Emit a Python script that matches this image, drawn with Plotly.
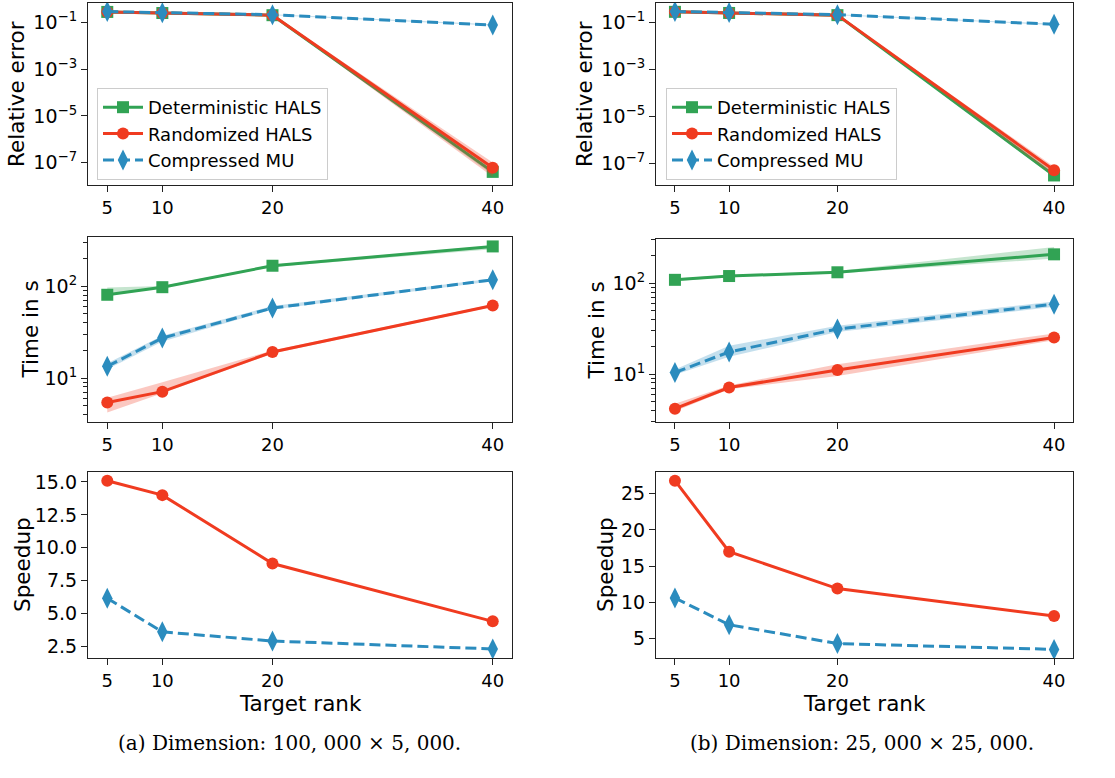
import plotly.graph_objects as go

# ---------------- data ----------------
ranks = [5, 10, 20, 40]
rank_ticks = ["5", "10", "20", "40"]

# (a) 100,000 x 5,000
err_det_a = [0.29, 0.26, 0.21, 4.0e-8]
err_det_a_lo = [0.28, 0.25, 0.20, 3.0e-8]
err_det_a_hi = [0.30, 0.27, 0.22, 5.5e-8]
err_rand_a = [0.29, 0.26, 0.21, 6.0e-8]
err_rand_a_lo = [0.28, 0.25, 0.20, 2.5e-8]
err_rand_a_hi = [0.30, 0.27, 0.22, 1.0e-7]
err_mu_a = [0.30, 0.27, 0.22, 0.08]
err_mu_a_lo = [0.29, 0.26, 0.21, 0.075]
err_mu_a_hi = [0.31, 0.28, 0.23, 0.085]

time_det_a = [81, 98, 168, 273]
time_det_a_lo = [79, 96, 163, 255]
time_det_a_hi = [97, 101, 172, 280]
time_rand_a = [5.4, 7.1, 19.2, 62]
time_rand_a_lo = [4.2, 6.8, 18.5, 60]
time_rand_a_hi = [6.1, 9.0, 20.0, 64]
time_mu_a = [13.4, 27.3, 58, 118]
time_mu_a_lo = [12.5, 25, 56, 114]
time_mu_a_hi = [14.5, 29, 61, 122]

speed_rand_a = [15.1, 14.0, 8.8, 4.4]
speed_mu_a = [6.15, 3.6, 2.9, 2.3]

# (b) 25,000 x 25,000
err_det_b = [0.29, 0.26, 0.21, 3.0e-8]
err_det_b_lo = [0.28, 0.25, 0.20, 2.5e-8]
err_det_b_hi = [0.30, 0.27, 0.22, 4.0e-8]
err_rand_b = [0.29, 0.26, 0.21, 5.0e-8]
err_rand_b_lo = [0.28, 0.25, 0.20, 3.0e-8]
err_rand_b_hi = [0.30, 0.27, 0.22, 7.0e-8]
err_mu_b = [0.30, 0.27, 0.22, 0.085]
err_mu_b_lo = [0.29, 0.26, 0.21, 0.08]
err_mu_b_hi = [0.31, 0.28, 0.23, 0.09]

time_det_b = [109, 120, 132, 208]
time_det_b_lo = [105, 117, 128, 187]
time_det_b_hi = [113, 123, 136, 250]
time_rand_b = [4.16, 7.1, 11.1, 25.2]
time_rand_b_lo = [3.9, 6.8, 9.5, 23.5]
time_rand_b_hi = [4.7, 7.5, 12.8, 28]
time_mu_b = [10.4, 17.5, 31.3, 58.8]
time_mu_b_lo = [9.8, 15.5, 29, 55]
time_mu_b_hi = [11.2, 20.5, 34, 63]

speed_rand_b = [26.8, 17.0, 11.9, 8.1]
speed_mu_b = [10.6, 6.9, 4.3, 3.5]

names = ["Deterministic HALS", "Randomized HALS", "Compressed MU"]
captions = ["(a) Dimension: 100, 000 × 5, 000.", "(b) Dimension: 25, 000 × 25, 000."]
ylabels = ["Relative error", "Time in s", "Speedup"]

# ---------------- style ----------------
GREEN = "#31a354"
RED = "#f03b20"
BLUE = "#2b8cbe"
FILL = {GREEN: "rgba(49,163,84,0.28)", RED: "rgba(240,59,32,0.28)", BLUE: "rgba(43,140,190,0.28)"}
FONT = "DejaVu Sans"
W, H = 1115, 778

styles = {
    "det": dict(color=GREEN, symbol="square", size=12, dash="solid"),
    "rand": dict(color=RED, symbol="circle", size=12, dash="solid"),
    "mu": dict(color=BLUE, symbol="diamond-tall", size=15, dash="11px,5px"),
}

# pixel boxes (left, right, top, bottom)
col_x = [(88, 512), (656, 1073)]
row_y = [[(3, 185), (3, 185)], [(237, 422), (239, 422)], [(472, 658), (472, 658)]]
yranges = [
    [[-7.96, -0.155], [-7.93, -0.16]],
    [[0.52, 2.539], [0.472, 2.487]],
    [[1.61, 15.76], [2.31, 28.0]],
]

fig = go.Figure()


def ax_id(k):
    return "" if k == 1 else str(k)


def add_series(k, key, y, lo, hi, legend=None):
    st = styles[key]
    xa, ya = "x" + ax_id(k), "y" + ax_id(k)
    if lo is not None:
        fig.add_trace(go.Scatter(x=ranks, y=hi, xaxis=xa, yaxis=ya, mode="lines",
                                 line=dict(width=0, color=st["color"]), showlegend=False,
                                 hoverinfo="skip"))
        fig.add_trace(go.Scatter(x=ranks, y=lo, xaxis=xa, yaxis=ya, mode="lines",
                                 line=dict(width=0, color=st["color"]), fill="tonexty",
                                 fillcolor=FILL[st["color"]], showlegend=False, hoverinfo="skip"))
    name = {"det": names[0], "rand": names[1], "mu": names[2]}[key]
    fig.add_trace(go.Scatter(
        x=ranks, y=y, xaxis=xa, yaxis=ya, mode="lines+markers", name=name,
        line=dict(color=st["color"], width=3, dash=st["dash"]),
        marker=dict(symbol=st["symbol"], size=st["size"], color=st["color"], line=dict(width=0)),
        showlegend=legend is not None, legend=legend if legend else "legend"))


panels = {
    (0, 0): [("det", err_det_a, err_det_a_lo, err_det_a_hi), ("rand", err_rand_a, err_rand_a_lo, err_rand_a_hi), ("mu", err_mu_a, err_mu_a_lo, err_mu_a_hi)],
    (0, 1): [("det", err_det_b, err_det_b_lo, err_det_b_hi), ("rand", err_rand_b, err_rand_b_lo, err_rand_b_hi), ("mu", err_mu_b, err_mu_b_lo, err_mu_b_hi)],
    (1, 0): [("det", time_det_a, time_det_a_lo, time_det_a_hi), ("rand", time_rand_a, time_rand_a_lo, time_rand_a_hi), ("mu", time_mu_a, time_mu_a_lo, time_mu_a_hi)],
    (1, 1): [("det", time_det_b, time_det_b_lo, time_det_b_hi), ("rand", time_rand_b, time_rand_b_lo, time_rand_b_hi), ("mu", time_mu_b, time_mu_b_lo, time_mu_b_hi)],
    (2, 0): [("rand", speed_rand_a, None, None), ("mu", speed_mu_a, None, None)],
    (2, 1): [("rand", speed_rand_b, None, None), ("mu", speed_mu_b, None, None)],
}

axis_common = dict(showline=True, linecolor="#222", linewidth=1.2, mirror=True, ticks="outside",
                   ticklen=6, tickwidth=1.2, tickcolor="#222", showgrid=False, zeroline=False)

layout = {}
for (r, c), series in panels.items():
    k = r * 2 + c + 1
    for key, y, lo, hi in series:
        legend = None
        if r == 0:
            legend = "legend" if c == 0 else "legend2"
        add_series(k, key, y, lo, hi, legend)
    x0, x1 = col_x[c]
    t, b = row_y[r][c]
    xa = dict(axis_common, domain=[x0 / W, x1 / W], range=[3.25, 41.75], anchor="y" + ax_id(k),
              tickvals=ranks, ticktext=rank_ticks, tickfont=dict(family=FONT, size=18, color="black"))
    ya = dict(axis_common, domain=[1 - b / H, 1 - t / H], range=yranges[r][c], anchor="x" + ax_id(k),
              tickfont=dict(family=FONT, size=19, color="black"))
    if r == 0:
        ya.update(type="log", tickvals=[1e-7, 1e-5, 1e-3, 1e-1],
                  ticktext=["10<sup>−7</sup>", "10<sup>−5</sup>", "10<sup>−3</sup>", "10<sup>−1</sup>"])
    elif r == 1:
        minor_vals = [m * 10 ** e for e in (0, 1, 2) for m in range(2, 10)]
        ya.update(type="log", tickvals=[10, 100], ticktext=["10<sup>1</sup>", "10<sup>2</sup>"],
                  minor=dict(tickvals=minor_vals, ticks="outside", ticklen=3.5, tickwidth=1, tickcolor="#222"))
    else:
        if c == 0:
            ya.update(tickvals=[2.5, 5, 7.5, 10, 12.5, 15],
                      ticktext=["2.5", "5.0", "7.5", "10.0", "12.5", "15.0"])
        else:
            ya.update(tickvals=[5, 10, 15, 20, 25], ticktext=["5", "10", "15", "20", "25"])
    layout["xaxis" + ax_id(k)] = xa
    layout["yaxis" + ax_id(k)] = ya

fig.update_layout(**layout)

leg_common = dict(font=dict(family=FONT, size=18, color="black"), bgcolor="rgba(255,255,255,0.8)",
                  bordercolor="#cccccc", borderwidth=1, xanchor="left", yanchor="top",
                  tracegroupgap=0, itemwidth=40, traceorder="normal")
fig.update_layout(
    width=W, height=H, margin=dict(l=0, r=0, t=0, b=0),
    plot_bgcolor="white", paper_bgcolor="white",
    legend=dict(leg_common, x=97 / W, y=1 - 88 / H),
    legend2=dict(leg_common, x=666 / W, y=1 - 88 / H),
)

ann = []
ylab_x = [[17, 585], [30, 596], [22, 605]]
for r in range(3):
    for c in range(2):
        t, b = row_y[r][c]
        ann.append(dict(text=ylabels[r], x=ylab_x[r][c] / W, y=1 - (t + b) / 2 / H, xref="paper", yref="paper",
                        textangle=-90, showarrow=False, font=dict(family=FONT, size=21.5, color="black"),
                        xanchor="center", yanchor="middle"))
for c in range(2):
    x0, x1 = col_x[c]
    ann.append(dict(text="Target rank", x=(x0 + x1) / 2 / W, y=1 - 703 / H, xref="paper", yref="paper",
                    showarrow=False, font=dict(family=FONT, size=21.5, color="black"),
                    xanchor="center", yanchor="middle"))
cap_x = [290, 862]
for c in range(2):
    ann.append(dict(text=captions[c], x=cap_x[c] / W, y=1 - 743 / H, xref="paper", yref="paper",
                    showarrow=False, font=dict(family="DejaVu Serif", size=20, color="black"),
                    xanchor="center", yanchor="middle"))
fig.update_layout(annotations=ann)

fig.write_html("out.html")
